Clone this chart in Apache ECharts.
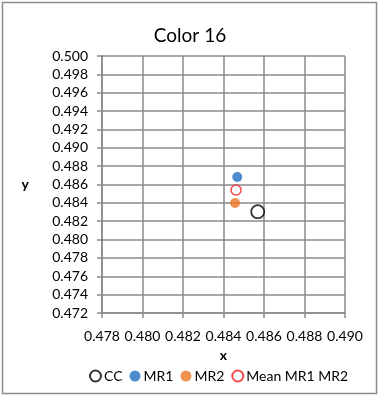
<!DOCTYPE html>
<html><head><meta charset="utf-8">
<script src="https://cdn.jsdelivr.net/npm/echarts@6/dist/echarts.min.js"></script>
<style>html,body{margin:0;padding:0;background:#fff}#c{width:380px;height:396px}</style>
</head><body><div id="c"></div>
<script>
const seriesNames = ['CC', 'MR1', 'MR2', 'Mean MR1 MR2'];
const ccPoint = [[0.48569, 0.48304]];
const mr1Point = [[0.48468, 0.48682]];
const mr2Point = [[0.48457, 0.48399]];
const meanPoint = [[0.48462, 0.48540]];
const xTicks = [0.478, 0.480, 0.482, 0.484, 0.486, 0.488, 0.490];
const yTicks = [0.472, 0.474, 0.476, 0.478, 0.480, 0.482, 0.484, 0.486, 0.488, 0.490, 0.492, 0.494, 0.496, 0.498, 0.500];

const font = 'Lato, "Open Sans", sans-serif';
const chart = echarts.init(document.getElementById('c'), null, {renderer: 'canvas'});
const gridLine = {show: true, lineStyle: {color: '#8a8a8a', width: 1.5}};
chart.setOption({
  animation: false,
  backgroundColor: '#fff',
  textStyle: {fontFamily: font},
  graphic: [{type: 'rect', shape: {x: 2.5, y: 2.5, width: 374, height: 391}, style: {fill: 'none', stroke: '#8c8c8c', lineWidth: 1.5}, silent: true}],
  title: {text: 'Color 16', left: 'center', top: 21, textStyle: {fontFamily: font, fontSize: 19, fontWeight: 'normal', color: '#000'}},
  grid: {left: 102, right: 35, top: 56, bottom: 83, containLabel: false},
  xAxis: {
    type: 'value', min: xTicks[0], max: xTicks[xTicks.length - 1], interval: 0.002,
    name: 'x', nameLocation: 'middle', nameGap: 35,
    nameTextStyle: {fontFamily: font, fontSize: 14, fontWeight: 'bold', color: '#000'},
    axisLine: {show: true, onZero: false, lineStyle: {color: '#8a8a8a', width: 1.5}},
    axisTick: {show: true, length: 5, lineStyle: {color: '#8a8a8a', width: 1.5}},
    axisLabel: {fontFamily: font, fontSize: 14, color: '#000', margin: 16, formatter: v => v.toFixed(3), showMinLabel: true, showMaxLabel: true},
    splitLine: gridLine
  },
  yAxis: {
    type: 'value', min: yTicks[0], max: yTicks[yTicks.length - 1], interval: 0.002,
    name: 'y', nameLocation: 'middle', nameGap: 73, nameRotate: 0,
    nameTextStyle: {fontFamily: font, fontSize: 14, fontWeight: 'bold', color: '#000'},
    axisLine: {show: true, onZero: false, lineStyle: {color: '#8a8a8a', width: 1.5}},
    axisTick: {show: true, length: 5, lineStyle: {color: '#8a8a8a', width: 1.5}},
    axisLabel: {fontFamily: font, fontSize: 14, color: '#000', margin: 14, formatter: v => v.toFixed(3), showMinLabel: true, showMaxLabel: true},
    splitLine: gridLine
  },
  legend: {
    bottom: 8, left: 84, itemGap: 7, itemWidth: 11, itemHeight: 11,
    textStyle: {fontFamily: font, fontSize: 14, color: '#000', padding: [0, 0, 0, -2]},
    data: seriesNames
  },
  series: [
    {name: seriesNames[0], type: 'scatter', data: ccPoint, symbol: 'circle', symbolSize: 13, itemStyle: {color: '#fff', borderColor: '#000', borderWidth: 1.8}, z: 2},
    {name: seriesNames[1], type: 'scatter', data: mr1Point, symbol: 'circle', symbolSize: 10, itemStyle: {color: '#1f6fc0'}, z: 3},
    {name: seriesNames[2], type: 'scatter', data: mr2Point, symbol: 'circle', symbolSize: 10, itemStyle: {color: '#ee7522'}, z: 3},
    {name: seriesNames[3], type: 'scatter', data: meanPoint, symbol: 'circle', symbolSize: 10, itemStyle: {color: '#fff', borderColor: '#ee1c1c', borderWidth: 1.5}, z: 4}
  ]
});
</script></body></html>
